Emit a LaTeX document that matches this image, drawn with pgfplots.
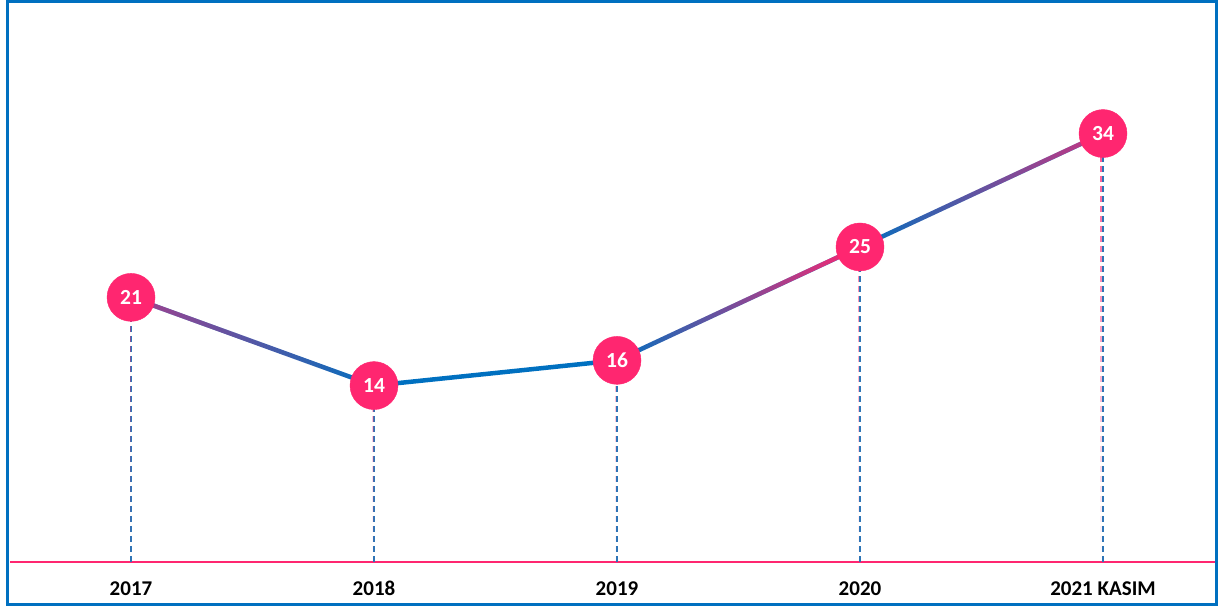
\documentclass[border=0pt]{standalone}
\usepackage{pgfplots}
\pgfplotsset{compat=1.18}
\usepackage{fontspec}
\setmainfont{Carlito}
\usetikzlibrary{fadings}

\definecolor{pinkc}{HTML}{FF2670}
\definecolor{linec}{HTML}{0070C0}
\definecolor{dropc}{HTML}{2E75B6}
\definecolor{framec}{HTML}{0070C0}

\begin{document}
\begin{tikzpicture}[x=1pt,y=1pt]
% page = 1218 x 607 px, 1px = 1pt; axis origin is pixel (10,562)
\path (-10,-45) rectangle (1208,562);
\begin{axis}[
  at={(0,0)}, anchor=south west,
  scale only axis, width=1206pt, height=560pt,
  xmin=-0.498, xmax=4.465, ymin=0, ymax=44.44,
  axis x line*=bottom, axis y line=none,
  x axis line style={pinkc, line width=1.4pt},
  xtick={0,1,2,3,4},
  xticklabels={2017,2018,2019,2020,2021 KASIM},
  major tick length=0pt,
  typeset ticklabels with strut,
  xticklabel style={font=\bfseries\fontsize{21}{22}\selectfont, black, yshift=-15pt},
  ytick=\empty,
  clip=false,
]
% dashed drop lines
\addplot[ycomb, dropc, line width=1.1pt, dash pattern=on 6pt off 4pt, no marks]
  coordinates {(0,21) (1,14) (2,16) (3,25) (4,34)};
\addplot[ycomb, pinkc, line width=1.1pt, dash pattern=on 6pt off 4pt, no marks,
  path fading=south, opacity=0.8]
  coordinates {(0,21) (1,14) (2,16) (3,25) (4,34)};

% line segments (blue base, pink overlay faded)
\addplot[linec, line width=4.5pt, no marks] coordinates {(0,21) (1,14)};
\addplot[pinkc, line width=4.5pt, no marks, opacity=0.65, path fading=east] coordinates {(0,21) (1,14)};
\addplot[linec, line width=4.5pt, no marks] coordinates {(1,14) (2,16)};
\addplot[linec, line width=4.5pt, no marks] coordinates {(2,16) (3,25)};
\addplot[pinkc, line width=4.5pt, no marks, path fading=west] coordinates {(2,16) (3,25)};
\addplot[linec, line width=4.5pt, no marks] coordinates {(3,25) (4,34)};
\addplot[pinkc, line width=4.5pt, no marks, opacity=0.8, path fading=west] coordinates {(3,25) (4,34)};

% circles with values
\addplot[pinkc, only marks, mark=*, mark size=24pt, mark options={fill=pinkc, draw=pinkc},
  nodes near coords,
  /pgf/number format/assume math mode=true,
  every node near coord/.append style={anchor=center, white,
    font=\bfseries\fontsize{21.5}{22}\selectfont}]
  coordinates {(0,21) (1,14) (2,16) (3,25) (4,34)};
\end{axis}
% outer frame
\draw[framec, line width=3pt] (-2.5,-42.5) rectangle (1206,560.5);
\end{tikzpicture}
\end{document}
